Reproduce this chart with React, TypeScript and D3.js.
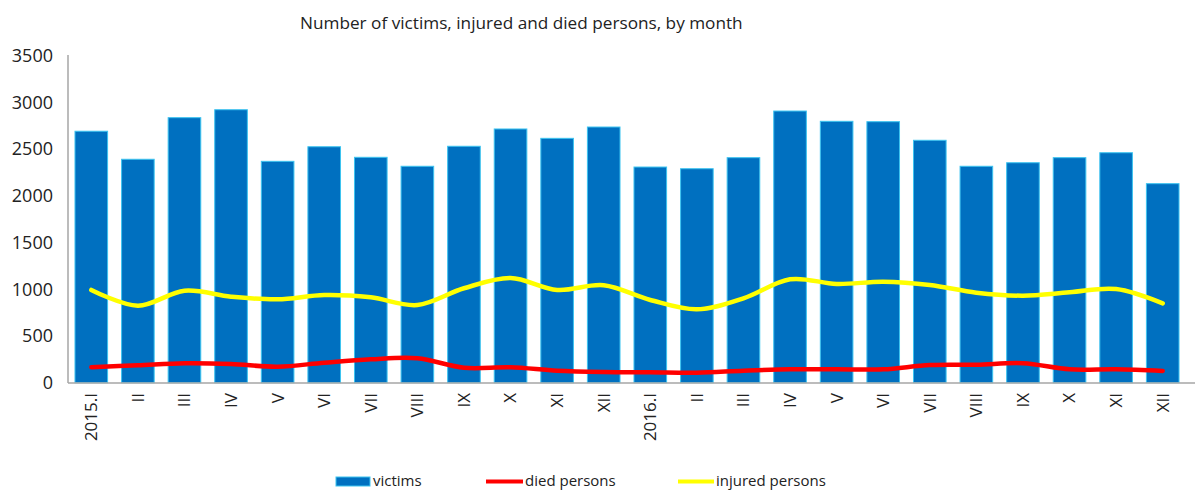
import React from "react";
import * as d3 from "d3";

const months = ["2015.I","II","III","IV","V","VI","VII","VIII","IX","X","XI","XII","2016.I","II ","III ","IV ","V ","VI ","VII ","VIII ","IX ","X ","XI ","XII "];
const victims = [2690,2390,2835,2920,2368,2524,2411,2315,2529,2714,2614,2735,2307,2289,2407,2906,2796,2792,2593,2315,2353,2407,2460,2129];
const injured = [992,824,984,920,892,938,913,831,1010,1120,992,1042,885,785,903,1106,1056,1080,1045,963,931,967,1002,849];
const died = [165,186,208,200,171,214,250,261,160,165,128,114,111,107,128,143,143,143,189,193,208,143,143,125];
const yTicks = [0,500,1000,1500,2000,2500,3000,3500];
const title = "Number of victims, injured and died persons, by month";

const W = 1195, H = 490;
const FONT = "'Open Sans', 'Noto Sans', sans-serif";

export default function App() {
  const x = d3.scaleBand<string>().domain(months).range([68, 1186]).paddingInner(0.3).paddingOuter(0.15);
  const y = d3.scaleLinear().domain([0, 3500]).range([382.7, 55.5]);
  const line = (vals: number[]) =>
    d3.line<number>()
      .x((_, i) => (x(months[i]) as number) + x.bandwidth() / 2)
      .y((v) => y(v))
      .curve(d3.curveCardinal.tension(0))(vals) as string;

  return (
    <svg width={W} height={H} style={{ position: "absolute", left: 0, top: 0, background: "#fff" }}>
      <text x={300} y={29} fontFamily={FONT} fontSize={17.2} fill="#222">{title}</text>
      {yTicks.map((t) => (
        <text key={t} x={53} y={y(t)} dy="0.35em" textAnchor="end" fontFamily={FONT} fontSize={18} fill="#222">{t}</text>
      ))}
      {victims.map((v, i) => (
        <rect key={i} x={x(months[i]) as number} y={y(v)} width={x.bandwidth()} height={y(0) - y(v)}
          fill="#0070C0" stroke="#3CC4F0" strokeWidth={1} />
      ))}
      <line x1={68} x2={68} y1={55} y2={383} stroke="#A6A6A6" strokeWidth={1.5} />
      <line x1={68} x2={1195} y1={383} y2={383} stroke="#A6A6A6" strokeWidth={1.5} />
      <path d={line(injured)} fill="none" stroke="#FFFF00" strokeWidth={4.5} strokeLinecap="round" />
      <path d={line(died)} fill="none" stroke="#FF0000" strokeWidth={4.5} strokeLinecap="round" />
      {months.map((m, i) => {
        const cx = (x(m) as number) + x.bandwidth() / 2;
        return (
          <text key={i} transform={`translate(${cx},393) rotate(-90)`} dy="0.35em" textAnchor="end"
            fontFamily={FONT} fontSize={17} fill="#222">{m.trim()}</text>
        );
      })}
      <g fontFamily={FONT} fontSize={15} fill="#222">
        <rect x={336} y={477} width={34} height={9} fill="#0070C0" stroke="#3CC4F0" strokeWidth={1} />
        <text x={373} y={486}>victims</text>
        <line x1={486} x2={523} y1={481.5} y2={481.5} stroke="#FF0000" strokeWidth={4} />
        <text x={525} y={486}>died persons</text>
        <line x1={678} x2={714} y1={481.5} y2={481.5} stroke="#FFFF00" strokeWidth={4} />
        <text x={716} y={486}>injured persons</text>
      </g>
    </svg>
  );
}
